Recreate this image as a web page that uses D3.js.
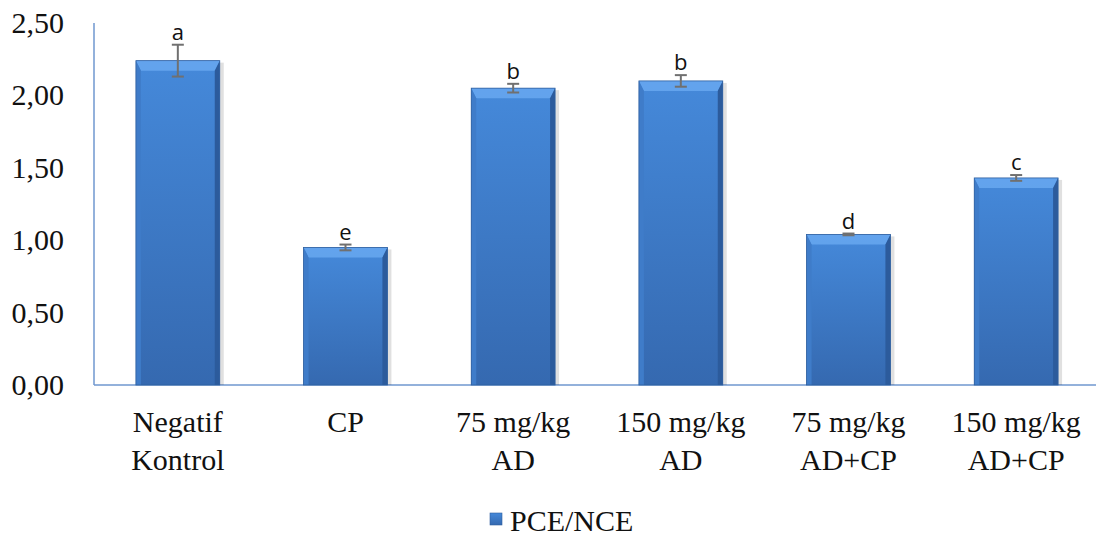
<!DOCTYPE html>
<html>
<head>
<meta charset="utf-8">
<script src="https://cdn.jsdelivr.net/npm/d3@7"></script>
</head>
<body style="margin:0">
<script>
// data
const groups = ['Negatif Kontrol', 'CP', '75 mg/kg AD', '150 mg/kg AD', '75 mg/kg AD+CP', '150 mg/kg AD+CP']
const groupLines = [['Negatif', 'Kontrol'], ['CP'], ['75 mg/kg', 'AD'], ['150 mg/kg', 'AD'], ['75 mg/kg', 'AD+CP'], ['150 mg/kg', 'AD+CP']]
const values = [2.24, 0.95, 2.05, 2.10, 1.04, 1.43]
const errors = [0.11, 0.02, 0.03, 0.04, 0.006, 0.02]
const letters = ['a', 'e', 'b', 'b', 'd', 'c']
const yTicks = [0, 0.5, 1, 1.5, 2, 2.5]
const seriesName = 'PCE/NCE'

const W = 1097, H = 539
const svg = d3.select('body').append('svg').attr('width', W).attr('height', H)

const grad = svg.append('defs').append('linearGradient').attr('id', 'barGrad')
  .attr('x1', 0).attr('x2', 0).attr('y1', 0).attr('y2', 1)
grad.append('stop').attr('offset', '0%').attr('stop-color', '#4589da')
grad.append('stop').attr('offset', '100%').attr('stop-color', '#3569b0')

const x = d3.scaleBand().domain(groups).range([94, 1100]).paddingInner(0.5).paddingOuter(0.25)
const y = d3.scaleLinear().domain([0, 2.5]).range([385, 23])
const bw = x.bandwidth()

// axis lines
svg.append('line').attr('x1', 94).attr('x2', 94).attr('y1', y(2.5)).attr('y2', y(0))
  .attr('stroke', '#6f97cf').attr('stroke-width', 1.5)
svg.append('line').attr('x1', 94).attr('x2', 1096).attr('y1', y(0)).attr('y2', y(0))
  .attr('stroke', '#6f97cf').attr('stroke-width', 1.5)

// y tick labels
svg.selectAll('.ytick').data(yTicks).enter().append('text')
  .style('font-family', "'Liberation Serif'").attr('font-size', 30).attr('fill', '#111')
  .attr('x', 64).attr('y', d => y(d) + 10)
  .attr('text-anchor', 'end')
  .text(d => d3.format('.2f')(d).replace('.', ','))

// bars
const bars = svg.selectAll('.bar').data(values).enter().append('g')
  .attr('transform', (d, i) => `translate(${x(groups[i])},0)`)

// soft shadow on the right
bars.append('rect')
  .attr('x', 2).attr('y', d => y(d) + 2).attr('width', bw + 2).attr('height', d => y(0) - y(d) - 2)
  .attr('fill', '#000').attr('opacity', 0.12)
bars.append('rect')
  .attr('x', 0).attr('y', d => y(d)).attr('width', bw).attr('height', d => y(0) - y(d))
  .attr('fill', 'url(#barGrad)')
// bevel: top light, sides darker
const bev = 10, side = 5
bars.append('polygon')
  .attr('points', d => `0,${y(d)} ${bw},${y(d)} ${bw - side},${y(d) + bev} ${side},${y(d) + bev}`)
  .attr('fill', '#66a6ee').attr('opacity', 0.9)
bars.append('polygon')
  .attr('points', d => `0,${y(d)} ${side},${y(d) + bev} ${side},${y(0)} 0,${y(0)}`)
  .attr('fill', '#3f7cc9')
bars.append('polygon')
  .attr('points', d => `${bw},${y(d)} ${bw - side},${y(d) + bev} ${bw - side},${y(0)} ${bw},${y(0)}`)
  .attr('fill', '#2c5b9c')
bars.append('rect')
  .attr('x', 0).attr('y', d => y(d)).attr('width', bw).attr('height', d => y(0) - y(d))
  .attr('fill', 'none').attr('stroke', '#2f5f9f').attr('stroke-width', 0.8)

// error bars
const eb = svg.selectAll('.err').data(values).enter().append('g')
  .attr('stroke', '#707070').attr('stroke-width', 2)
eb.append('line')
  .attr('x1', (d, i) => x(groups[i]) + bw / 2).attr('x2', (d, i) => x(groups[i]) + bw / 2)
  .attr('y1', (d, i) => y(d + errors[i])).attr('y2', (d, i) => y(d - errors[i]))
eb.append('line')
  .attr('x1', (d, i) => x(groups[i]) + bw / 2 - 6).attr('x2', (d, i) => x(groups[i]) + bw / 2 + 6)
  .attr('y1', (d, i) => y(d + errors[i])).attr('y2', (d, i) => y(d + errors[i]))
eb.append('line')
  .attr('x1', (d, i) => x(groups[i]) + bw / 2 - 6).attr('x2', (d, i) => x(groups[i]) + bw / 2 + 6)
  .attr('y1', (d, i) => y(d - errors[i])).attr('y2', (d, i) => y(d - errors[i]))

// letters
svg.selectAll('.letter').data(letters).enter().append('text')
  .style('font-family', "'Open Sans'").attr('font-size', 22).attr('fill', '#111')
  .attr('x', (d, i) => x(groups[i]) + bw / 2)
  .attr('y', (d, i) => y(values[i] + errors[i]) - 5)
  .attr('text-anchor', 'middle')
  .text(d => d)

// category labels, one text per line
groupLines.forEach((lines, i) => {
  lines.forEach((line, j) => {
    svg.append('text')
      .style('font-family', "'Liberation Serif'").attr('font-size', 30).attr('fill', '#111')
      .attr('x', x(groups[i]) + bw / 2).attr('y', 432 + j * 38)
      .attr('text-anchor', 'middle')
      .text(line)
  })
})

// legend
svg.append('rect').attr('x', 490).attr('y', 513).attr('width', 12).attr('height', 12)
  .attr('fill', 'url(#barGrad)').attr('stroke', '#2f5f9f').attr('stroke-width', 0.6)
svg.append('text')
  .style('font-family', "'Liberation Serif'").attr('font-size', 30).attr('fill', '#111')
  .attr('x', 510).attr('y', 531)
  .text(seriesName)
</script>
</body>
</html>
